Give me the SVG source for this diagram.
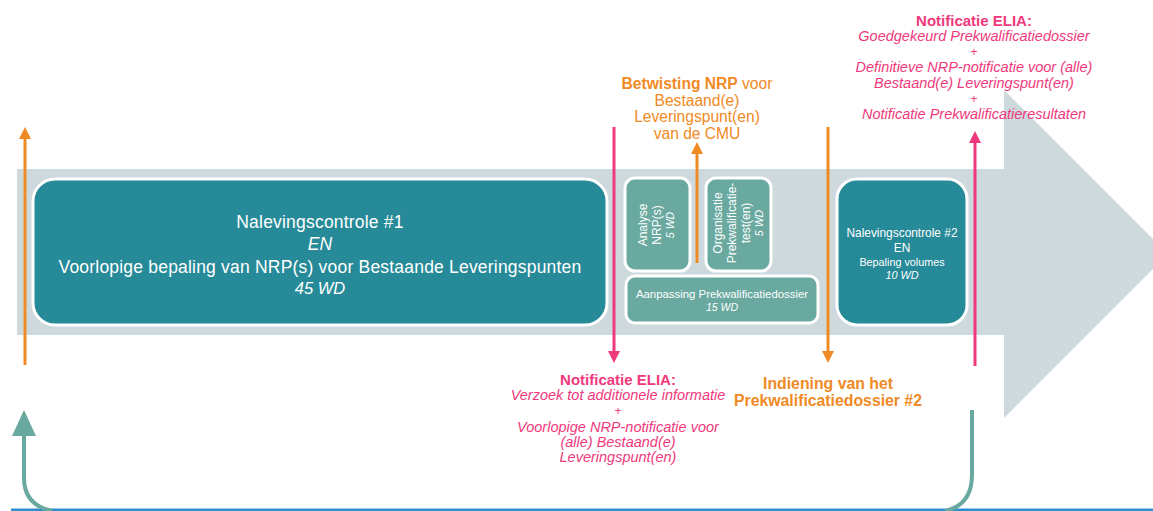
<svg xmlns="http://www.w3.org/2000/svg" width="1153" height="511" viewBox="0 0 1153 511">
<defs>
<style>
text{font-family:"Liberation Sans",Arial,sans-serif;text-anchor:middle}
.wt{fill:#ffffff}
.it{font-style:italic}
.bd{font-weight:bold}
.pk{fill:#f0397c}
.or{fill:#f08a24}
.teal{fill:#268a98;stroke:#ffffff;stroke-width:3}
.sage{fill:#6aa99f;stroke:#ffffff;stroke-width:3}
</style>
<marker id="mOr" viewBox="0 0 10 10" refX="5" refY="5" markerWidth="4" markerHeight="4" orient="auto-start-reverse"><path d="M0,0L10,5L0,10z" fill="#f08a24"/></marker>
<marker id="mPk" viewBox="0 0 10 10" refX="5" refY="5" markerWidth="4" markerHeight="4" orient="auto-start-reverse"><path d="M0,0L10,5L0,10z" fill="#f0397c"/></marker>
</defs>
<g id="timeline-arrow">
<path d="M17,169H1004V90L1168,254L1004,418V335H17Z" fill="#cdd9dd"/>
</g>
<line x1="11" y1="510" x2="1153" y2="510" stroke="#2e8fd0" stroke-width="3"/>
<g id="node-nalevingscontrole1">
<rect class="teal" x="33" y="179" width="574" height="146" rx="22"/>
<text class="wt" x="320" y="228" font-size="17.5" letter-spacing="0.2">Nalevingscontrole #1</text>
<text class="wt it" x="320" y="250" font-size="17.5">EN</text>
<text class="wt" x="320" y="273" font-size="17.5" letter-spacing="0.2">Voorlopige bepaling van NRP(s) voor Bestaande Leveringspunten</text>
<text class="wt it" x="320" y="294" font-size="16.5">45 WD</text>
</g>
<g id="node-analyse">
<rect class="sage" x="625" y="178" width="65" height="93" rx="10"/>
<g transform="translate(657,225) rotate(-90)">
<text class="wt" x="0" y="-10" font-size="12">Analyse</text>
<text class="wt" x="0" y="4" font-size="12">NRP(s)</text>
<text class="wt it" x="0" y="17" font-size="10.5">5 WD</text>
</g>
</g>
<g id="node-organisatie">
<rect class="sage" x="706" y="178" width="65" height="93" rx="10"/>
<g transform="translate(739,223) rotate(-90)">
<text class="wt" x="0" y="-17" font-size="12">Organisatie</text>
<text class="wt" x="0" y="-3" font-size="12">Prekwalificatie-</text>
<text class="wt" x="0" y="11" font-size="12">test(en)</text>
<text class="wt it" x="0" y="24" font-size="10.5">5 WD</text>
</g>
</g>
<g id="node-aanpassing">
<rect class="sage" x="626" y="276" width="192" height="47" rx="9"/>
<text class="wt" x="722" y="298" font-size="11.4">Aanpassing Prekwalificatiedossier</text>
<text class="wt it" x="722" y="311" font-size="10.5">15 WD</text>
</g>
<g id="node-nalevingscontrole2">
<rect class="teal" x="837" y="179" width="130" height="146" rx="20"/>
<text class="wt" x="902" y="237" font-size="11.9">Nalevingscontrole #2</text>
<text class="wt" x="902" y="252" font-size="11.9">EN</text>
<text class="wt" x="902" y="266" font-size="10.8">Bepaling volumes</text>
<text class="wt it" x="902" y="279" font-size="10.8">10 WD</text>
</g>
<g id="connectors" fill="none">
<line x1="25" y1="365" x2="25" y2="133" stroke="#f08a24" stroke-width="3" marker-end="url(#mOr)"/>
<line x1="614" y1="127" x2="614" y2="357" stroke="#f0397c" stroke-width="3" marker-end="url(#mPk)"/>
<line x1="697" y1="263" x2="697" y2="148" stroke="#f08a24" stroke-width="3" marker-end="url(#mOr)"/>
<line x1="828" y1="127" x2="828" y2="357" stroke="#f08a24" stroke-width="3" marker-end="url(#mOr)"/>
<line x1="975" y1="366" x2="975" y2="137" stroke="#f0397c" stroke-width="3" marker-end="url(#mPk)"/>
<path d="M972,410V475Q972,505 945,511" stroke="#6aa99f" stroke-width="4"/>
<path d="M24,434V478Q24,505 52,511" stroke="#6aa99f" stroke-width="4"/>
<path d="M12,436L24,410L36,436Z" fill="#6aa99f"/>
</g>
<g id="label-betwisting">
<text class="or" x="697" y="89" font-size="15.6"><tspan class="bd">Betwisting NRP</tspan> voor</text>
<text class="or" x="697" y="106" font-size="15.6">Bestaand(e)</text>
<text class="or" x="697" y="122" font-size="15.6">Leveringspunt(en)</text>
<text class="or" x="697" y="139" font-size="15.6">van de CMU</text>
</g>
<g id="label-notificatie-top">
<text class="pk bd" x="974" y="26" font-size="15">Notificatie ELIA:</text>
<text class="pk it" x="974" y="41" font-size="14.5">Goedgekeurd Prekwalificatiedossier</text>
<text class="pk" x="974" y="56" font-size="12">+</text>
<text class="pk it" x="974" y="72" font-size="14.5">Definitieve NRP-notificatie voor (alle)</text>
<text class="pk it" x="974" y="88" font-size="14.5">Bestaand(e) Leveringspunt(en)</text>
<text class="pk" x="974" y="103" font-size="12">+</text>
<text class="pk it" x="974" y="119" font-size="14.5">Notificatie Prekwalificatieresultaten</text>
</g>
<g id="label-notificatie-bottom">
<text class="pk bd" x="618" y="385" font-size="15">Notificatie ELIA:</text>
<text class="pk it" x="618" y="400" font-size="14.5">Verzoek tot additionele informatie</text>
<text class="pk" x="618" y="415" font-size="12">+</text>
<text class="pk it" x="618" y="432" font-size="14.5">Voorlopige NRP-notificatie voor</text>
<text class="pk it" x="618" y="447" font-size="14.5">(alle) Bestaand(e)</text>
<text class="pk it" x="618" y="462" font-size="14.5">Leveringspunt(en)</text>
</g>
<g id="label-indiening">
<text class="or bd" x="828" y="389" font-size="15.8">Indiening van het</text>
<text class="or bd" x="828" y="406" font-size="15.8">Prekwalificatiedossier #2</text>
</g>
</svg>
